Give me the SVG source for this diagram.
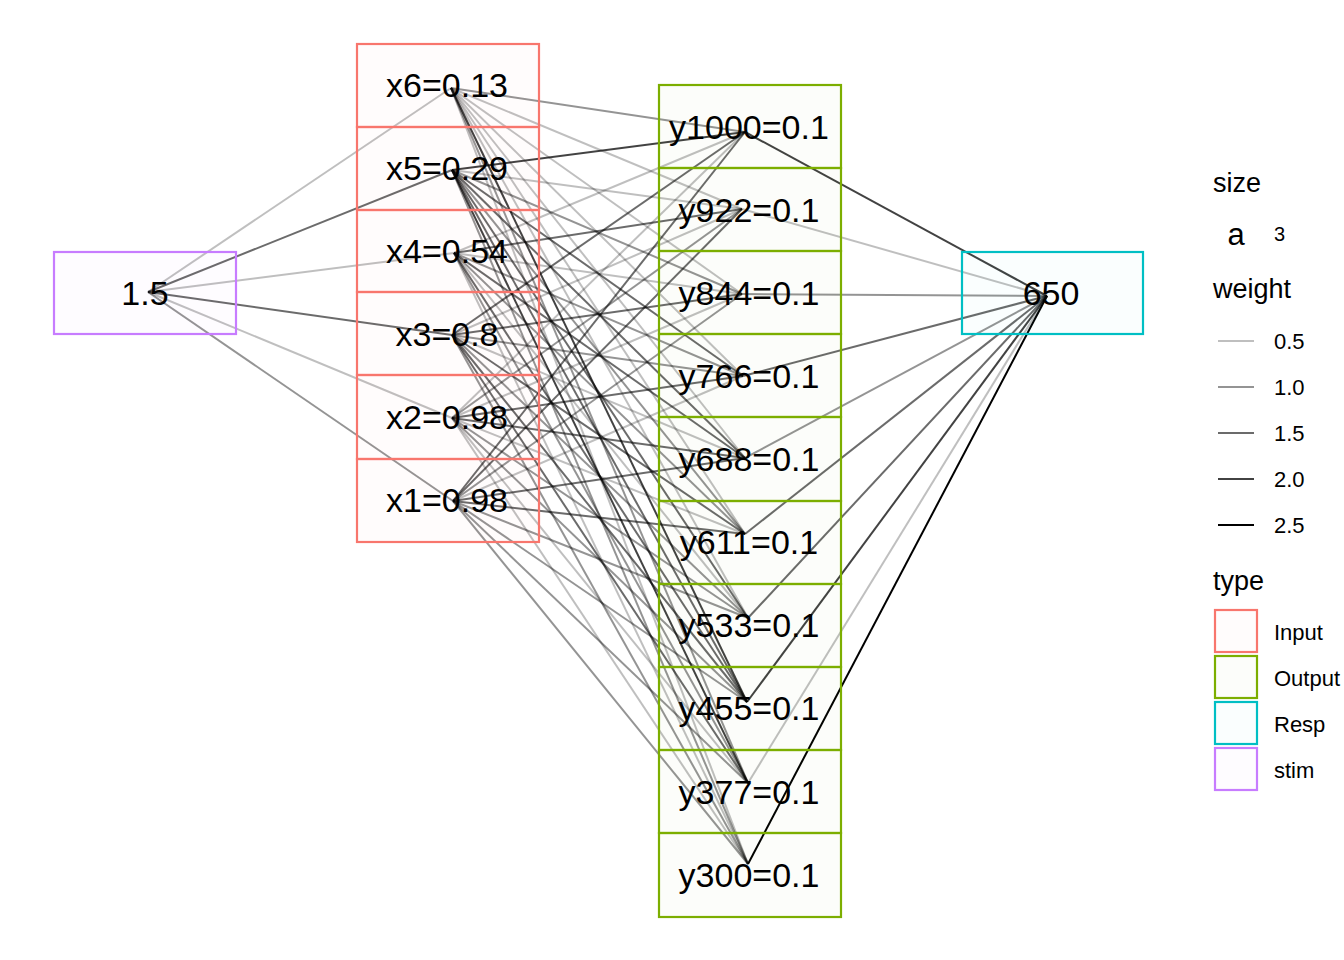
<svg xmlns="http://www.w3.org/2000/svg" width="1344" height="960" viewBox="0 0 1344 960">
  <style>
    text { font-family: "Liberation Sans", Arial, Helvetica, sans-serif; fill: #000; }
    .lbl { font-size: 34px; text-anchor: middle; }
    .box { stroke-width: 2.2; fill-opacity: 0.02; }
    .inp { stroke: #F8766D; fill: #F8766D; }
    .out { stroke: #7CAE00; fill: #7CAE00; }
    .rsp { stroke: #00BFC4; fill: #00BFC4; }
    .stm { stroke: #C77CFF; fill: #C77CFF; }
    #edges line, .key line { stroke: #000; stroke-width: 2; }
    .a { stroke-opacity: 0.25; }
    .b { stroke-opacity: 0.42; }
    .c { stroke-opacity: 0.58; }
    .d { stroke-opacity: 0.74; }
    .e { stroke-opacity: 1; }
    .ttl { font-size: 27px; }
    .kl { font-size: 22px; }
  </style>
  <rect width="1344" height="960" fill="#FFFFFF"/>

  <!-- weighted connections -->
  <g id="edges">
    <!-- stimulus to inputs -->
    <line class="a" x1="148" y1="292" x2="451" y2="88"/>
    <line class="c" x1="148" y1="292" x2="452" y2="170"/>
    <line class="a" x1="148" y1="292" x2="454" y2="253"/>
    <line class="c" x1="148" y1="292" x2="452" y2="335"/>
    <line class="a" x1="148" y1="292" x2="452" y2="418"/>
    <line class="b" x1="148" y1="292" x2="453" y2="501"/>
    <!-- x6 -->
    <line class="b" x1="451" y1="88" x2="745" y2="132"/>
    <line class="a" x1="451" y1="88" x2="742" y2="209"/>
    <line class="a" x1="451" y1="88" x2="742" y2="294"/>
    <line class="a" x1="451" y1="88" x2="743" y2="376"/>
    <line class="a" x1="451" y1="88" x2="745" y2="458"/>
    <line class="a" x1="451" y1="88" x2="745" y2="534"/>
    <line class="a" x1="451" y1="88" x2="748" y2="618"/>
    <line class="d" x1="451" y1="88" x2="747" y2="702"/>
    <line class="b" x1="451" y1="88" x2="748" y2="783"/>
    <line class="a" x1="451" y1="88" x2="748" y2="864"/>
    <!-- x5 -->
    <line class="d" x1="452" y1="170" x2="745" y2="132"/>
    <line class="a" x1="452" y1="170" x2="742" y2="209"/>
    <line class="b" x1="452" y1="170" x2="742" y2="294"/>
    <line class="c" x1="452" y1="170" x2="743" y2="376"/>
    <line class="c" x1="452" y1="170" x2="745" y2="458"/>
    <line class="b" x1="452" y1="170" x2="745" y2="534"/>
    <line class="c" x1="452" y1="170" x2="748" y2="618"/>
    <line class="c" x1="452" y1="170" x2="747" y2="702"/>
    <line class="d" x1="452" y1="170" x2="748" y2="783"/>
    <line class="b" x1="452" y1="170" x2="748" y2="864"/>
    <!-- x4 -->
    <line class="a" x1="454" y1="253" x2="745" y2="132"/>
    <line class="c" x1="454" y1="253" x2="742" y2="209"/>
    <line class="a" x1="454" y1="253" x2="742" y2="294"/>
    <line class="b" x1="454" y1="253" x2="743" y2="376"/>
    <line class="c" x1="454" y1="253" x2="745" y2="458"/>
    <line class="b" x1="454" y1="253" x2="745" y2="534"/>
    <line class="a" x1="454" y1="253" x2="748" y2="618"/>
    <line class="c" x1="454" y1="253" x2="747" y2="702"/>
    <line class="b" x1="454" y1="253" x2="748" y2="783"/>
    <line class="a" x1="454" y1="253" x2="748" y2="864"/>
    <!-- x3 -->
    <line class="c" x1="452" y1="335" x2="745" y2="132"/>
    <line class="a" x1="452" y1="335" x2="742" y2="209"/>
    <line class="c" x1="452" y1="335" x2="742" y2="294"/>
    <line class="b" x1="452" y1="335" x2="743" y2="376"/>
    <line class="a" x1="452" y1="335" x2="745" y2="458"/>
    <line class="c" x1="452" y1="335" x2="745" y2="534"/>
    <line class="b" x1="452" y1="335" x2="748" y2="618"/>
    <line class="c" x1="452" y1="335" x2="747" y2="702"/>
    <line class="c" x1="452" y1="335" x2="748" y2="783"/>
    <line class="b" x1="452" y1="335" x2="748" y2="864"/>
    <!-- x2 -->
    <line class="a" x1="452" y1="418" x2="745" y2="132"/>
    <line class="b" x1="452" y1="418" x2="742" y2="209"/>
    <line class="a" x1="452" y1="418" x2="742" y2="294"/>
    <line class="c" x1="452" y1="418" x2="743" y2="376"/>
    <line class="c" x1="452" y1="418" x2="745" y2="458"/>
    <line class="a" x1="452" y1="418" x2="745" y2="534"/>
    <line class="b" x1="452" y1="418" x2="748" y2="618"/>
    <line class="b" x1="452" y1="418" x2="747" y2="702"/>
    <line class="a" x1="452" y1="418" x2="748" y2="783"/>
    <line class="a" x1="452" y1="418" x2="748" y2="864"/>
    <!-- x1 -->
    <line class="c" x1="453" y1="501" x2="745" y2="132"/>
    <line class="c" x1="453" y1="501" x2="742" y2="209"/>
    <line class="b" x1="453" y1="501" x2="742" y2="294"/>
    <line class="a" x1="453" y1="501" x2="743" y2="376"/>
    <line class="c" x1="453" y1="501" x2="745" y2="458"/>
    <line class="c" x1="453" y1="501" x2="745" y2="534"/>
    <line class="b" x1="453" y1="501" x2="748" y2="618"/>
    <line class="b" x1="453" y1="501" x2="747" y2="702"/>
    <line class="b" x1="453" y1="501" x2="748" y2="783"/>
    <line class="b" x1="453" y1="501" x2="748" y2="864"/>
    <!-- outputs to response -->
    <line class="d" x1="745" y1="132" x2="1047" y2="296"/>
    <line class="a" x1="742" y1="209" x2="1047" y2="296"/>
    <line class="b" x1="742" y1="294" x2="1047" y2="296"/>
    <line class="c" x1="743" y1="376" x2="1047" y2="296"/>
    <line class="b" x1="745" y1="458" x2="1047" y2="296"/>
    <line class="c" x1="745" y1="534" x2="1047" y2="296"/>
    <line class="c" x1="748" y1="618" x2="1047" y2="296"/>
    <line class="d" x1="747" y1="702" x2="1047" y2="296"/>
    <line class="a" x1="748" y1="783" x2="1047" y2="296"/>
    <line class="e" x1="748" y1="864" x2="1047" y2="296"/>
  </g>

  <!-- stimulus -->
  <g id="stim">
    <rect class="box stm" x="54" y="252" width="182" height="82"/>
    <text class="lbl" x="145" y="305">1.5</text>
  </g>

  <!-- input layer -->
  <g id="x6"><rect class="box inp" x="357" y="44" width="182" height="83"/><text class="lbl" x="447" y="97">x6=0.13</text></g>
  <g id="x5"><rect class="box inp" x="357" y="127" width="182" height="83"/><text class="lbl" x="447" y="180">x5=0.29</text></g>
  <g id="x4"><rect class="box inp" x="357" y="210" width="182" height="82"/><text class="lbl" x="447" y="263">x4=0.54</text></g>
  <g id="x3"><rect class="box inp" x="357" y="292" width="182" height="83"/><text class="lbl" x="447" y="346">x3=0.8</text></g>
  <g id="x2"><rect class="box inp" x="357" y="375" width="182" height="84"/><text class="lbl" x="447" y="429">x2=0.98</text></g>
  <g id="x1"><rect class="box inp" x="357" y="459" width="182" height="83"/><text class="lbl" x="447" y="512">x1=0.98</text></g>

  <!-- output layer -->
  <g id="y1000"><rect class="box out" x="659" y="85" width="182" height="83"/><text class="lbl" x="749" y="139">y1000=0.1</text></g>
  <g id="y922"><rect class="box out" x="659" y="168" width="182" height="83"/><text class="lbl" x="749" y="222">y922=0.1</text></g>
  <g id="y844"><rect class="box out" x="659" y="251" width="182" height="83"/><text class="lbl" x="749" y="305">y844=0.1</text></g>
  <g id="y766"><rect class="box out" x="659" y="334" width="182" height="83"/><text class="lbl" x="749" y="388">y766=0.1</text></g>
  <g id="y688"><rect class="box out" x="659" y="417" width="182" height="84"/><text class="lbl" x="749" y="471">y688=0.1</text></g>
  <g id="y611"><rect class="box out" x="659" y="501" width="182" height="83"/><text class="lbl" x="749" y="554">y611=0.1</text></g>
  <g id="y533"><rect class="box out" x="659" y="584" width="182" height="83"/><text class="lbl" x="749" y="637">y533=0.1</text></g>
  <g id="y455"><rect class="box out" x="659" y="667" width="182" height="83"/><text class="lbl" x="749" y="720">y455=0.1</text></g>
  <g id="y377"><rect class="box out" x="659" y="750" width="182" height="83"/><text class="lbl" x="749" y="804">y377=0.1</text></g>
  <g id="y300"><rect class="box out" x="659" y="833" width="182" height="84"/><text class="lbl" x="749" y="887">y300=0.1</text></g>

  <!-- response -->
  <g id="resp">
    <rect class="box rsp" x="962" y="252" width="181" height="82"/>
    <text class="lbl" x="1051" y="305">650</text>
  </g>

  <!-- legends -->
  <g id="legend-size">
    <text class="ttl" x="1213" y="192">size</text>
    <text x="1236" y="245" font-size="31" text-anchor="middle">a</text>
    <text x="1274" y="241" font-size="20">3</text>
  </g>
  <g id="legend-weight" class="key">
    <text class="ttl" x="1213" y="298">weight</text>
    <line class="a" x1="1218" y1="341" x2="1254" y2="341"/>
    <line class="b" x1="1218" y1="387" x2="1254" y2="387"/>
    <line class="c" x1="1218" y1="433" x2="1254" y2="433"/>
    <line class="d" x1="1218" y1="479" x2="1254" y2="479"/>
    <line class="e" x1="1218" y1="525" x2="1254" y2="525"/>
    <text class="kl" x="1274" y="349">0.5</text>
    <text class="kl" x="1274" y="395">1.0</text>
    <text class="kl" x="1274" y="441">1.5</text>
    <text class="kl" x="1274" y="487">2.0</text>
    <text class="kl" x="1274" y="533">2.5</text>
  </g>
  <g id="legend-type">
    <text class="ttl" x="1213" y="590">type</text>
    <rect class="box inp" x="1215" y="610" width="42" height="42"/>
    <rect class="box out" x="1215" y="656" width="42" height="42"/>
    <rect class="box rsp" x="1215" y="702" width="42" height="42"/>
    <rect class="box stm" x="1215" y="748" width="42" height="42"/>
    <text class="kl" x="1274" y="640">Input</text>
    <text class="kl" x="1274" y="686">Output</text>
    <text class="kl" x="1274" y="732">Resp</text>
    <text class="kl" x="1274" y="778">stim</text>
  </g>
</svg>
